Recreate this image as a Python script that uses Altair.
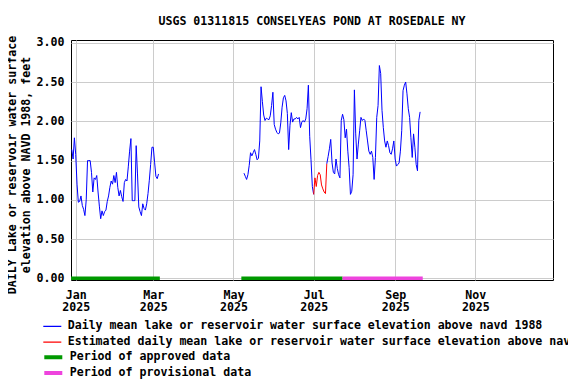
import altair as alt
import pandas as pd

TITLE = "USGS 01311815 CONSELYEAS POND AT ROSEDALE NY"
Y_TITLE = ["DAILY Lake or reservoir water surface", "elevation above NAVD 1988, feet"]
SERIES = [
    "Daily mean lake or reservoir water surface elevation above navd 1988",
    "Estimated daily mean lake or reservoir water surface elevation above navd 1988",
]
PERIODS = ["Period of approved data", "Period of provisional data"]
TICK_MONTHS = [1, 3, 5, 7, 9, 11]
Y_TICKS = [0.0, 0.5, 1.0, 1.5, 2.0, 2.5, 3.0]

# daily values, segment 1 (approved, winter)
seg1_start = "2024-12-29"
seg1_values = [
    1.64, 1.52, 1.79, 1.58, 1.20, 0.97, 0.98, 1.05, 0.93, 0.88,
    0.80, 1.00, 1.50, 1.50, 1.50, 1.35, 1.10, 1.28, 1.26, 1.31,
    1.10, 0.92, 0.76, 0.86, 0.80, 0.85, 0.87, 0.98, 1.05, 1.16,
    1.24, 1.20, 1.31, 1.22, 1.35, 1.16, 1.05, 1.12, 1.04, 0.98,
    1.22, 1.26, 1.24, 1.42, 1.62, 1.78,
    0.99, 0.99, 0.99, 1.69, 1.33, 0.91, 0.85, 0.80, 0.95, 0.89,
    0.87, 0.95, 1.08, 1.25, 1.45, 1.67, 1.67, 1.48, 1.30, 1.27, 1.33,
]
# segment 2a (May 9 - Jul 1)
seg2a_start = "2025-05-09"
seg2a_values = [
    1.34, 1.30, 1.26, 1.32, 1.44, 1.60, 1.56, 1.60, 1.64, 1.58,
    1.51, 1.53, 1.75, 2.44, 2.25, 2.08, 2.01, 2.04, 2.03, 2.02,
    2.07, 2.20, 2.37, 1.96, 1.90, 1.86, 1.84, 1.85, 1.98, 2.18,
    2.30, 2.33, 2.26, 2.10, 1.64, 1.95, 2.11, 1.99, 2.03, 2.03,
    2.05, 2.03, 2.05, 1.92, 1.99, 2.01, 1.99, 2.03, 2.16, 2.46,
    1.81, 1.51, 1.17, 1.07,
]
# estimated (Jul 1 - Jul 11)
est_start = "2025-07-01"
est_values = [1.07, 1.28, 1.17, 1.31, 1.35, 1.32, 1.19, 1.14, 1.10, 1.08, 1.46]
# segment 2b (Jul 11 - Sep 20)
seg2b_start = "2025-07-11"
seg2b_values = [
    1.46, 1.55, 1.65, 1.77, 1.47, 1.35, 1.33, 1.52, 1.40, 1.32,
    1.28, 2.01, 2.09, 2.02, 1.79, 1.90, 1.62, 1.41, 1.07, 1.11,
    1.32, 2.40, 1.84, 1.52, 1.71, 1.88, 2.05, 2.01, 2.03, 2.01,
    1.88, 1.75, 1.62, 1.58, 1.62, 1.54, 1.26, 1.54, 2.05, 2.20,
    2.71, 2.61, 2.14, 1.92, 1.75, 1.67, 1.75, 1.69, 1.60, 1.58,
    1.65, 1.75, 1.52, 1.43, 1.45, 1.47, 1.62, 1.88, 2.39, 2.46,
    2.50, 2.35, 2.16, 2.05, 1.79, 1.54, 1.84, 1.67, 1.45, 1.37,
    2.01, 2.12,
]

period_starts = ["2024-12-28", "2025-05-07", "2025-07-23"]
period_ends = ["2025-03-06", "2025-07-23", "2025-09-22"]
period_kinds = [PERIODS[0], PERIODS[0], PERIODS[1]]

FONT = "DejaVu Sans Mono"
FS = 11.6

frames = []
for i, (start, vals, ser) in enumerate([
    (seg1_start, seg1_values, SERIES[0]),
    (seg2a_start, seg2a_values, SERIES[0]),
    (est_start, est_values, SERIES[1]),
    (seg2b_start, seg2b_values, SERIES[0]),
]):
    dates = pd.date_range(start, periods=len(vals), freq="D").strftime("%Y-%m-%d")
    frames.append(pd.DataFrame({"date": dates, "value": vals, "series": ser, "seg": i}))
df = pd.concat(frames, ignore_index=True)

pdf = pd.DataFrame({"start": period_starts, "end": period_ends, "kind": period_kinds})

xscale = alt.Scale(
    type="utc",
    domain=[
        alt.DateTime(year=2024, month=12, date=28, hours=10, utc=True),
        alt.DateTime(year=2025, month=12, date=30, hours=2, utc=True),
    ],
)
yscale = alt.Scale(domain=[-0.02, 3.035], nice=False, zero=False)

xaxis = alt.Axis(
    values=[alt.DateTime(year=2025, month=m, date=1, utc=True) for m in TICK_MONTHS],
    labelExpr="[utcFormat(datum.value, '%b'), utcFormat(datum.value, '%Y')]",
    labelLineHeight=12.5,
    labelPadding=9,
    labelAlign="center",
    labelBaseline="top",
    labelOverlap=False,
)
yaxis = alt.Axis(
    values=Y_TICKS,
    tickCount=7,
    format=".2f",
    labelPadding=7,
    labelOverlap=False,
    titleAngle=270,
    titleX=-58.3,
    titleY=124.5,
    titleAlign="center",
    titleBaseline="middle",
    titleLineHeight=13.8,
)

legend_common = dict(
    title=None,
    orient="none",
    legendX=-28.7,
    direction="vertical",
    symbolType="stroke",
    symbolSize=324,
    labelOffset=5.4,
    labelLimit=2000,
    clipHeight=14,
    rowPadding=1.8,
    padding=0,
)

lines = alt.Chart(df).mark_line(strokeWidth=1, clip=True).encode(
    x=alt.X("date:T", scale=xscale, axis=xaxis, title=None),
    y=alt.Y("value:Q", scale=yscale, axis=yaxis, title=Y_TITLE),
    color=alt.Color(
        "series:N",
        scale=alt.Scale(domain=SERIES, range=["#0000FF", "#FF0000"]),
        legend=alt.Legend(legendY=279.3, symbolStrokeWidth=1.3, **legend_common),
    ),
    detail="seg:N",
)

bars = alt.Chart(pdf).mark_rule(strokeWidth=4, clip=True).encode(
    x=alt.X("start:T", scale=xscale, axis=xaxis, title=None),
    x2="end:T",
    y=alt.Y(datum=0, scale=yscale, axis=yaxis, title=Y_TITLE),
    color=alt.Color(
        "kind:N",
        scale=alt.Scale(domain=PERIODS, range=["#009900", "#EE44DD"]),
        legend=alt.Legend(legendY=310.3, symbolStrokeWidth=4, **legend_common),
    ),
)

chart = (
    alt.layer(lines, bars)
    .resolve_scale(color="independent")
    .properties(
        width=482,
        height=240,
        autosize=alt.AutoSizeParams(type="none"),
        padding={"left": 63, "top": 32, "right": 15, "bottom": 100},
        background="white",
        title=alt.TitleParams(
            text=TITLE,
            font=FONT,
            fontSize=FS,
            fontWeight="bold",
            color="black",
            anchor="middle",
            frame="group",
            baseline="middle",
            offset=1.7,
        ),
    )
    .configure_view(stroke="black", strokeWidth=1)
    .configure_axis(
        grid=True,
        gridColor="#CCCCCC",
        gridWidth=1,
        ticks=False,
        domain=False,
        labelFont=FONT,
        labelFontSize=FS,
        labelFontWeight="bold",
        labelColor="black",
        titleFont=FONT,
        titleFontSize=FS,
        titleFontWeight="bold",
        titleColor="black",
    )
    .configure_legend(
        labelFont=FONT,
        labelFontSize=FS,
        labelFontWeight="bold",
        labelColor="black",
    )
)

chart.save("out.html", embed_options={"renderer": "svg", "actions": False})
